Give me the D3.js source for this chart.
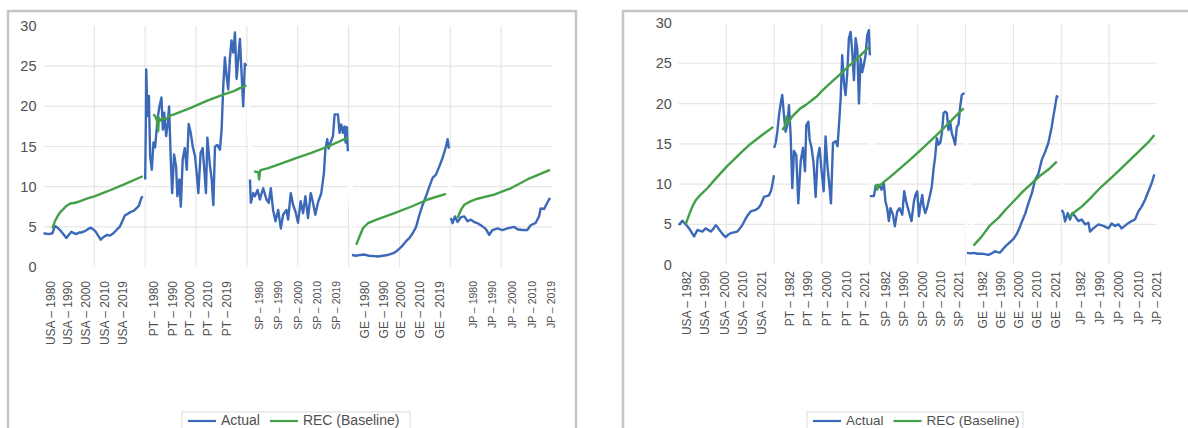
<!DOCTYPE html>
<html>
<head>
<meta charset="utf-8">
<script src="https://cdn.jsdelivr.net/npm/d3@7"></script>
<style>
  html, body { margin: 0; padding: 0; background: #ffffff; }
  svg { display: block; font-family: "Liberation Sans", Arial, sans-serif; }
</style>
</head>
<body>
<svg id="chart" width="1188" height="428"></svg>
<script>
// Countries, in the order their blocks appear along each category axis
const countries = ["USA", "PT", "SP", "GE", "JP"];
const yTicks = [0, 5, 10, 15, 20, 25, 30];

// ---------- Panel A: history to 2019 ([quarter within block, %]) ----------
const usaActualA = [[0,4.2],[4,4.1],[7,4.2],[9,5.1],[11,4.9],[13,4.6],[16,4.0],[18,3.6],[20,4.0],[22,4.4],[24,4.2],[26,4.1],[28,4.3],[30,4.3],[33,4.5],[37,4.9],[39,4.7],[41,4.4],[43,3.9],[45,3.4],[47,3.7],[50,4.0],[52,3.9],[55,4.2],[58,4.7],[60,5.0],[62,5.7],[64,6.4],[66,6.6],[68,6.8],[71,7.0],[73,7.3],[75,7.6],[77,8.6],[78,8.8]];
const usaRecA = [[7,4.8],[9,5.7],[11,6.3],[13,6.8],[15,7.1],[18,7.6],[21,7.9],[25,8.0],[29,8.2],[34,8.5],[40,8.8],[50,9.4],[63,10.25],[78,11.3]];
const ptActualA = [[0,10.9],[0.5,17.9],[0.8,24.6],[1.8,18.8],[2.9,21.3],[3.9,13.8],[5.2,12.1],[6.5,15.5],[7.8,14.9],[9.7,18.4],[11.2,20.0],[12.8,21.1],[13.9,17.1],[14.9,19.2],[16.5,16.3],[17.8,18.0],[18.8,20.0],[20.1,13.4],[21.2,9.2],[22.7,14.0],[24.3,12.5],[25.3,8.8],[26.9,10.9],[28.0,7.5],[29.5,13.4],[31.1,14.8],[32.7,12.1],[34.2,17.8],[35.8,16.7],[37.4,15.0],[39.2,13.8],[40.5,11.7],[41.8,9.2],[43.6,14.2],[45.2,14.8],[46.5,12.1],[47.8,9.2],[48.9,16.1],[51.0,12.5],[52.3,10.9],[53.6,7.7],[54.9,15.0],[56.7,15.2],[58.8,14.6],[60.1,17.1],[61.4,22.5],[62.7,26.1],[64.0,23.8],[65.3,22.1],[66.6,25.9],[67.9,28.2],[69.3,26.7],[70.6,29.2],[71.9,23.4],[73.2,25.9],[74.5,28.4],[75.8,24.2],[77.1,20.0],[78.4,25.3],[79.7,25.0]];
const ptRecA = [[6.5,19.0],[8.5,18.6],[9.5,18.0],[10.2,16.9],[10.8,18.6],[11.5,18.2],[13.5,18.5],[16.5,18.4],[18.8,18.8],[22.7,19.0],[35.8,19.8],[48.9,20.7],[61.9,21.5],[69.7,21.9],[74.9,22.3],[79.6,22.6]];
const spActualA = [[2.4,10.9],[3.1,8.0],[5.0,9.2],[6.3,8.8],[8.4,9.6],[10.2,8.4],[12.8,9.8],[15.4,8.4],[17.2,8.0],[18.8,9.8],[20.6,7.1],[22.5,5.7],[24.6,7.1],[26.7,4.8],[28.5,6.5],[31.1,7.1],[32.4,5.9],[34.5,9.2],[36.3,7.75],[38.2,6.9],[40.2,5.5],[42.3,8.2],[44.2,6.7],[46.0,8.8],[48.1,6.1],[50.2,9.2],[52.0,8.0],[53.8,6.5],[55.9,8.0],[58.5,9.2],[60.6,11.7],[61.7,14.6],[63.2,15.9],[64.3,14.75],[65.9,15.5],[67.7,16.3],[69.0,19.0],[71.6,19.0],[72.9,16.7],[74.2,17.75],[75.5,16.7],[76.8,17.5],[77.6,15.5],[78.7,17.4],[79.4,14.4]];
const spRecA = [[5.7,11.9],[9.0,11.8],[9.6,10.9],[10.4,12.0],[11.5,12.1],[16.7,12.3],[24.6,12.75],[37.6,13.5],[50.7,14.2],[63.8,15.0],[79.4,16.1]];
const geActualA = [[2.6,1.5],[6,1.4],[9,1.5],[12.5,1.55],[16,1.4],[20,1.35],[23,1.3],[27,1.4],[30.8,1.5],[33,1.6],[36.1,1.8],[38,2.0],[40,2.3],[42,2.6],[43.9,2.95],[45.8,3.3],[47.8,3.6],[50.4,4.2],[53.1,5.0],[55.7,6.5],[58.3,7.75],[60.9,8.8],[63.5,10.0],[66.1,11.1],[68.7,11.5],[71.3,12.5],[74.0,13.6],[76.6,15.0],[77.9,15.9],[78.9,14.75]];
const geRecA = [[6.0,2.75],[8.6,3.8],[11.2,4.8],[15.2,5.45],[23.0,5.95],[36.1,6.7],[49.1,7.5],[62.2,8.4],[76.6,9.1]];
const jpActualA = [[0.5,6.1],[1.8,5.45],[3.7,6.3],[5.7,5.6],[8.4,6.2],[11.0,6.3],[13.6,5.7],[16.2,5.9],[18.8,5.6],[21.4,5.45],[24.0,5.2],[26.7,4.9],[28.5,4.6],[30.6,4.0],[33.2,4.6],[37.1,4.8],[41.0,4.6],[44.9,4.8],[50.2,5.0],[52.8,4.7],[56.7,4.6],[60.6,4.6],[63.2,5.2],[67.2,5.5],[69.8,6.3],[71.1,7.3],[73.7,7.2],[76.3,8.0],[78.4,8.6]];
const jpRecA = [[5.7,6.1],[8.4,7.1],[11.0,7.75],[16.2,8.2],[21.4,8.5],[34.5,9.0],[47.6,9.8],[60.6,10.9],[78.4,12.1]];

const tickPosA = [5,19,33,48,62, 86,101,115,129,144, 169,184,200,215,230, 252,267,281,296,311, 338,353,368,384,399];
const tickLabelsA = [
  "USA – 1980","USA – 1990","USA – 2000","USA – 2010","USA – 2019",
  "PT – 1980","PT – 1990","PT – 2000","PT – 2010","PT – 2019",
  "SP – 1980","SP – 1990","SP – 2000","SP – 2010","SP – 2019",
  "GE – 1980","GE – 1990","GE – 2000","GE – 2010","GE – 2019",
  "JP – 1980","JP – 1990","JP – 2000","JP – 2010","JP – 2019"];

// ---------- Panel B: history to 2021 ----------
const usaActualB = [[0,5.1],[1.1,5.0],[3.3,5.45],[6.1,5.0],[8.9,4.5],[11,4.0],[13.1,3.5],[15.9,4.3],[18,4.2],[20.0,4.1],[22.8,4.5],[25,4.3],[27.0,4.1],[29,4.4],[31.2,4.9],[33,4.6],[35.3,4.1],[37.5,3.7],[39.5,3.4],[41.5,3.7],[43.7,3.9],[46.5,4.0],[49.3,4.1],[51.5,4.5],[53.4,4.9],[56.2,5.7],[58.3,6.2],[60.4,6.6],[62.5,6.7],[64.6,6.8],[66.7,7.0],[68.7,7.4],[71.5,8.4],[73.6,8.5],[75.7,8.6],[77.5,9.2],[78.5,9.9],[79.9,11.1]];
const usaRecB = [[6.1,5.0],[8,5.8],[9.5,6.4],[12,7.3],[14.5,8.0],[18,8.6],[24,9.45],[29.5,10.4],[35,11.3],[40.5,12.2],[46.2,13.0],[53,14.0],[60,14.95],[70,16.1],[79.3,17.1]];
const ptActualB = [[0,14.5],[1.3,15.1],[2.7,16.5],[4.1,18.6],[5.5,20.0],[6.8,21.05],[8.2,18.6],[9.6,16.5],[11.0,17.3],[12.4,19.8],[13.8,16.1],[15.2,9.5],[16.6,14.1],[18.5,13.6],[20.2,7.6],[22.2,12.8],[24.1,14.5],[25.8,11.6],[26.9,17.3],[28.6,17.75],[29.7,15.5],[31.3,14.5],[33.0,12.6],[34.7,8.4],[36.3,13.2],[38.0,14.5],[39.7,11.6],[41.4,9.1],[43.0,15.9],[44.7,12.0],[46.4,9.5],[47.5,7.6],[49.2,15.1],[51.4,15.3],[53.0,14.7],[54.2,17.3],[55.6,20.6],[56.9,26.0],[58.3,22.7],[59.7,21.05],[61.1,23.7],[62.5,28.1],[63.9,28.9],[65.3,26.4],[66.7,22.9],[68.1,28.1],[69.5,26.8],[70.9,20.0],[72.3,25.6],[73.6,23.9],[75.0,24.8],[76.4,26.0],[77.8,28.5],[79.2,29.1],[80.0,26.0]];
const ptRecB = [[6.8,16.7],[9.6,17.3],[10.5,18.4],[11.3,17.5],[12.4,17.75],[15.2,18.4],[21.9,19.4],[26.3,19.8],[35.8,20.9],[40.2,21.6],[49.7,22.9],[54.2,23.5],[63.6,24.8],[68.1,25.4],[79.2,27.0]];
const spActualB = [[0,8.5],[3.4,8.5],[4.8,9.7],[7.6,9.9],[9.8,9.3],[11.7,10.1],[13.1,7.8],[14.5,7.0],[15.9,5.4],[17.3,7.0],[19.3,6.2],[20.9,4.75],[22.9,6.6],[24.8,7.0],[27.1,6.2],[28.7,9.1],[30.4,7.8],[32.6,6.6],[34.8,5.4],[36.8,7.8],[38.2,8.7],[39.6,9.1],[41.0,6.0],[42.4,7.5],[43.8,8.65],[44.9,7.2],[46.3,6.4],[47.7,7.0],[49.0,7.8],[50.4,8.7],[51.8,9.7],[53.2,11.8],[54.6,13.4],[56.0,15.7],[57.4,14.9],[58.8,15.1],[60.2,16.3],[61.6,18.8],[63.0,19.0],[64.4,18.8],[65.7,16.7],[67.1,17.8],[68.5,16.3],[69.9,15.7],[71.3,14.9],[72.7,17.1],[74.1,17.4],[75.5,19.6],[76.9,21.1],[79.1,21.3]];
const spRecB = [[4,9.7],[5.5,9.9],[6.2,9.3],[7.2,9.9],[8.7,9.9],[17,10.9],[26.5,12.1],[36.5,13.4],[46,14.7],[56,16.1],[65.5,17.5],[75.5,19.0],[78.5,19.4]];
const geActualB = [[1.1,1.45],[4,1.4],[6.6,1.45],[10,1.35],[13.6,1.36],[16,1.3],[19.1,1.2],[22,1.4],[24.7,1.65],[26.5,1.55],[28.9,1.5],[31.7,2.0],[33.5,2.3],[35.8,2.6],[38,2.9],[40.0,3.2],[42.8,3.8],[45,4.5],[47.0,5.3],[49.8,6.3],[52.5,7.6],[55.3,8.8],[58.1,10.5],[60.9,11.3],[63.7,13.0],[66.5,14.0],[69.2,15.1],[70.6,16.1],[72.0,17.1],[73.4,18.4],[74.8,19.6],[76.2,20.9],[77.6,20.8]];
const geRecB = [[6.6,2.35],[13.6,3.5],[20,4.8],[27.5,5.8],[34,6.9],[41.4,8.05],[48,9.1],[55.3,10.1],[62,11.0],[69.2,11.8],[76.2,12.8]];
const jpActualB = [[0.4,6.8],[1.8,6.4],[3.2,5.35],[5.4,6.4],[7.3,5.6],[9.3,6.4],[11.5,6.0],[14.3,5.4],[17.1,5.6],[19.9,5.0],[22.7,5.2],[24.0,4.1],[26.8,4.5],[31.0,5.0],[35.2,4.8],[39.4,4.5],[42.1,5.1],[44.9,4.8],[47.7,5.0],[50.5,4.5],[54.7,5.0],[58.8,5.4],[61.6,5.6],[64.4,6.6],[67.2,7.2],[70.0,8.05],[72.8,9.1],[75.5,10.1],[77.8,11.2]];
const jpRecB = [[6.5,6.2],[8,6.0],[10.1,6.4],[17.1,7.2],[24,8.2],[31.0,9.3],[44.9,11.2],[58.8,13.2],[72.8,15.2],[77.8,16.1]];

const tickPosB = [7,22,38,53,69, 93,108,124,140,155, 173,188,204,219,234, 254,269,284,299,315, 336,352,368,384,399];
const tickLabelsB = [
  "USA – 1982","USA – 1990","USA – 2000","USA – 2010","USA – 2021",
  "PT – 1982","PT – 1990","PT – 2000","PT – 2010","PT – 2021",
  "SP – 1982","SP – 1990","SP – 2000","SP – 2010","SP – 2021",
  "GE – 1982","GE – 1990","GE – 2000","GE – 2010","GE – 2021",
  "JP – 1982","JP – 1990","JP – 2000","JP – 2010","JP – 2021"];

const legendNames = ["Actual", "REC (Baseline)"];

// ---------- styling ----------
const BLUE = "#3b69b8";
const GREEN = "#43a047";
const GRID = "#e6e6e6";
const TEXT = "#505050";
const BLOCK = 80;            // quarters per country block on the category axis

const svg = d3.select("#chart");

function drawPanel(cfg) {
  const g = svg.append("g");

  // frame
  g.append("rect")
    .attr("x", cfg.frame[0]).attr("y", cfg.frame[1])
    .attr("width", cfg.frame[2]).attr("height", cfg.frame[3])
    .attr("fill", "#fff").attr("stroke", "#c6c6c6").attr("stroke-width", 2.5);

  const x = d3.scaleLinear().domain([0, countries.length * BLOCK]).range(cfg.xRange);
  const y = d3.scaleLinear().domain([0, 30]).range(cfg.yRange);

  // gridlines
  g.append("g").selectAll("line").data(yTicks.filter(v => v > 0 && v < 30)).join("line")
    .attr("x1", x.range()[0]).attr("x2", x.range()[1])
    .attr("y1", d => y(d)).attr("y2", d => y(d))
    .attr("stroke", GRID).attr("stroke-width", 1.2);
  g.append("g").selectAll("line").data(d3.range(1, 2 * countries.length).map(i => i * BLOCK / 2)).join("line")
    .attr("x1", d => x(d)).attr("x2", d => x(d))
    .attr("y1", y(0)).attr("y2", y(30))
    .attr("stroke", GRID).attr("stroke-width", 1.2);

  // y axis labels
  const ya = g.append("g").attr("transform", `translate(${x.range()[0]},0)`)
    .call(d3.axisLeft(y).tickValues(yTicks).tickSize(0).tickPadding(cfg.yPad));
  ya.select(".domain").remove();
  ya.selectAll("text").attr("fill", TEXT).style("font-size", "14.5px")
    .style("font-family", "'Liberation Sans', Arial, sans-serif");

  // x axis labels (rotated)
  const xa = g.append("g").attr("transform", `translate(0,${cfg.labelTop})`)
    .call(d3.axisBottom(x).tickValues(cfg.tickPos).tickFormat((d, i) => cfg.tickLabels[i]).tickSize(0));
  xa.select(".domain").remove();
  xa.selectAll("text")
    .attr("transform", "rotate(-90)")
    .attr("x", 0).attr("y", 0).attr("dy", "0.35em")
    .style("text-anchor", "end")
    .attr("fill", TEXT)
    .style("font-family", "'Liberation Sans', Arial, sans-serif")
    .style("font-size", (d, i) => cfg.labelSize(Math.floor(i / 5)) + "px");

  const line = d3.line().x(d => x(d[0])).y(d => y(d[1]));
  const shift = (arr, i) => arr.map(p => [p[0] + i * BLOCK, p[1]]);

  // joins between country blocks are drawn in white, so they show only as breaks in the grid
  [cfg.actual, cfg.rec].forEach(series => {
    const all = series.flatMap((arr, i) => shift(arr, i));
    g.append("path").attr("d", line(all)).attr("fill", "none")
      .attr("stroke", "#fff").attr("stroke-width", 2.6).attr("stroke-linejoin", "round");
  });

  cfg.actual.forEach((arr, i) => {
    g.append("path").attr("d", line(shift(arr, i))).attr("fill", "none")
      .attr("stroke", BLUE).attr("stroke-width", 2.4).attr("stroke-linejoin", "round");
  });
  cfg.rec.forEach((arr, i) => {
    g.append("path").attr("d", line(shift(arr, i))).attr("fill", "none")
      .attr("stroke", GREEN).attr("stroke-width", 2.4).attr("stroke-linejoin", "round");
  });

  // legend
  const lg = g.append("g");
  lg.append("rect").attr("x", cfg.legend.x).attr("y", cfg.legend.y)
    .attr("width", cfg.legend.w).attr("height", 30)
    .attr("fill", "#fff").attr("stroke", "#dcdcdc").attr("stroke-width", 1);
  const items = [{name: legendNames[0], color: BLUE}, {name: legendNames[1], color: GREEN}];
  let cx = cfg.legend.x + 6;
  items.forEach((it, k) => {
    lg.append("line").attr("x1", cx).attr("x2", cx + 28)
      .attr("y1", cfg.legend.y + 9).attr("y2", cfg.legend.y + 9)
      .attr("stroke", it.color).attr("stroke-width", 2.2);
    const t = lg.append("text").attr("x", cx + 33).attr("y", cfg.legend.y + 13)
      .attr("fill", TEXT).style("font-size", cfg.legend.font + "px").text(it.name);
    cx += 33 + t.node().getComputedTextLength() + 10;
  });
}

drawPanel({
  frame: [8, 11, 568, 440],
  xRange: [43.5, 552], yRange: [267, 26], yPad: 7,
  labelTop: 281,
  tickPos: tickPosA, tickLabels: tickLabelsA,
  labelSize: b => (b === 2 || b === 4) ? 10.5 : 12,
  actual: [usaActualA, ptActualA, spActualA, geActualA, jpActualA],
  rec: [usaRecA, ptRecA, spRecA, geRecA, jpRecA],
  legend: {x: 182, y: 412, w: 228, font: 14}
});

drawPanel({
  frame: [623, 11, 600, 440],
  xRange: [678.4, 1157], yRange: [264.6, 23], yPad: 6.5,
  labelTop: 271,
  tickPos: tickPosB, tickLabels: tickLabelsB,
  labelSize: b => 12,
  actual: [usaActualB, ptActualB, spActualB, geActualB, jpActualB],
  rec: [usaRecB, ptRecB, spRecB, geRecB, jpRecB],
  legend: {x: 807, y: 412, w: 216, font: 13.5}
});
</script>
</body>
</html>
